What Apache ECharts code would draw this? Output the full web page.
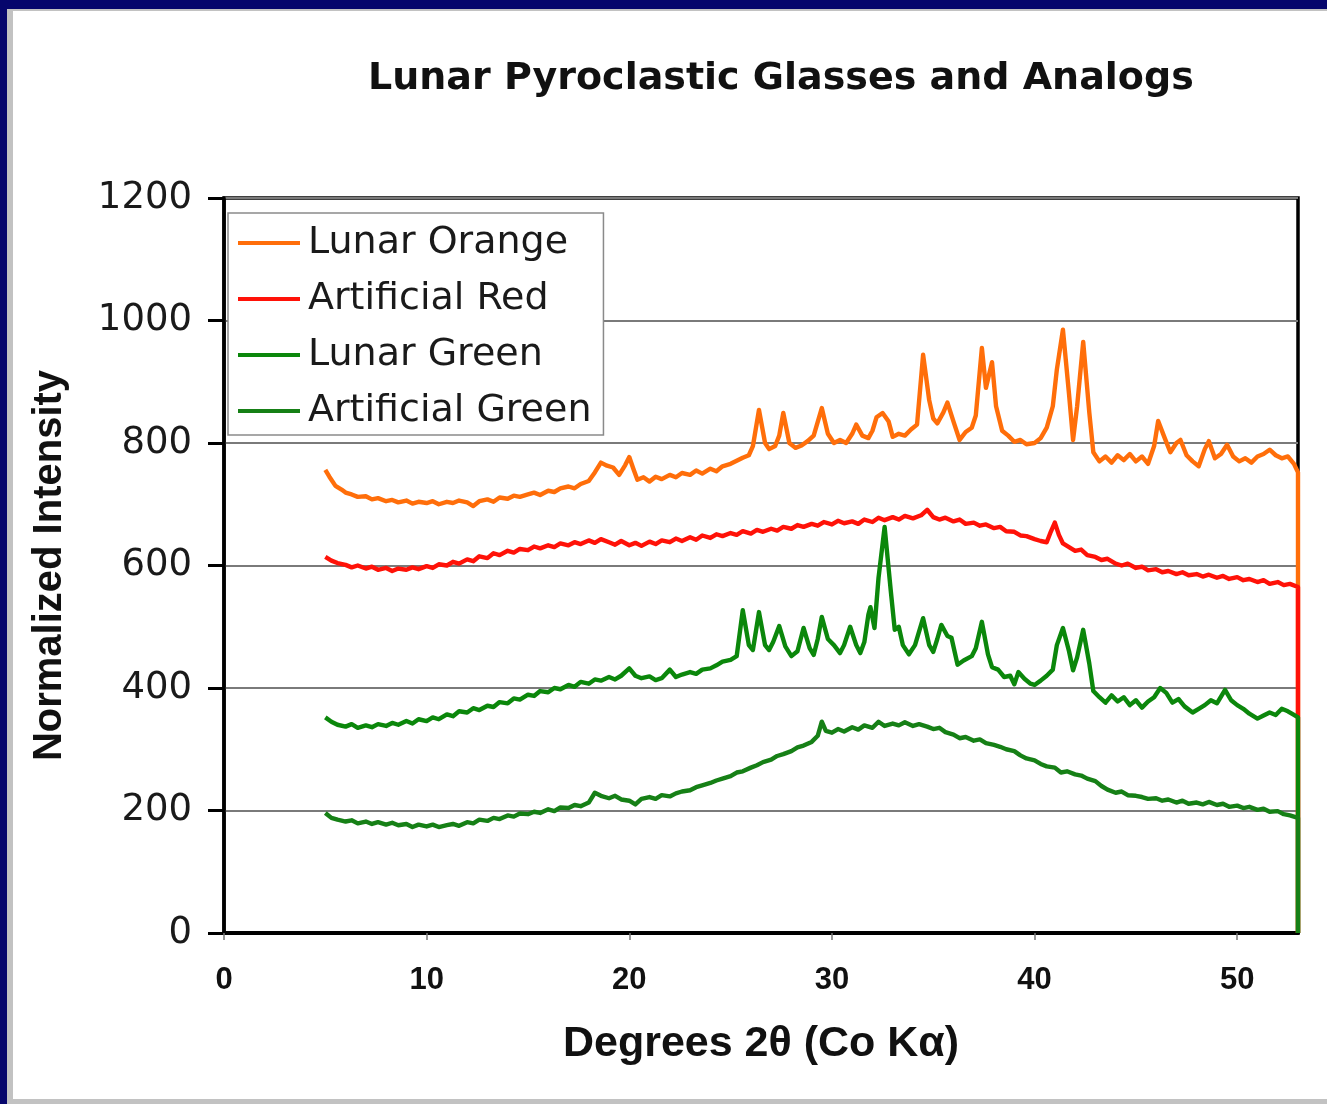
<!DOCTYPE html>
<html>
<head>
<meta charset="utf-8">
<script src="https://cdn.jsdelivr.net/npm/echarts@6/dist/echarts.min.js"></script>
<style>
html,body{margin:0;padding:0;width:1327px;height:1104px;overflow:hidden;background:#06066c;}
#gray{position:absolute;left:7px;top:9px;width:1320px;height:1095px;background:#c2c2c2;}
#white{position:absolute;left:13px;top:11px;width:1314px;height:1088px;background:#ffffff;}
#chart{position:absolute;left:0;top:0;width:1327px;height:1104px;}
</style>
</head>
<body>
<div id="gray"></div>
<div id="white"></div>
<div id="chart"></div>
<script>
const titleText = 'Lunar Pyroclastic Glasses and Analogs';
const xAxisName = 'Degrees 2\u03B8 (Co K\u03B1)';
const yAxisName = 'Normalized Intensity';
const seriesNames = ['Lunar Orange', 'Artificial Red', 'Lunar Green', 'Artificial Green'];
const seriesColors = ['#ff6e0a', '#ff1208', '#0b870b', '#168016'];
const xTicks = [0, 10, 20, 30, 40, 50];

const lunarOrange = [
[5.0,756],[5.2,745],[5.5,730],[5.8,724],[6.0,719],[6.3,716],[6.6,712],[7.0,713],[7.3,708],[7.6,710],
[8.0,705],[8.3,707],[8.6,703],[9.0,706],[9.3,701],[9.6,704],[10.0,702],[10.3,705],[10.6,700],[11.0,704],
[11.3,702],[11.6,706],[12.0,703],[12.3,697],[12.6,705],[13.0,708],[13.3,704],[13.6,711],[14.0,709],[14.3,714],
[14.6,712],[15.0,716],[15.3,719],[15.6,715],[16.0,722],[16.3,720],[16.6,726],[17.0,729],[17.3,726],[17.6,733],
[18.0,738],[18.3,752],[18.6,768],[18.9,763],[19.2,760],[19.5,748],[19.8,764],[20.0,777],[20.2,758],[20.4,740],
[20.7,744],[21.0,737],[21.3,745],[21.6,741],[22.0,748],[22.3,744],[22.6,751],[23.0,748],[23.3,755],[23.6,750],
[24.0,758],[24.3,754],[24.6,762],[25.0,766],[25.3,771],[25.6,776],[25.9,780],[26.1,795],[26.4,854],[26.7,800],
[26.9,790],[27.2,795],[27.4,812],[27.6,849],[27.9,800],[28.2,792],[28.5,796],[28.8,803],[29.1,812],[29.5,857],
[29.8,815],[30.1,800],[30.4,805],[30.7,800],[31.0,815],[31.2,830],[31.5,812],[31.8,808],[32.0,820],[32.2,842],
[32.5,849],[32.8,835],[33.0,810],[33.3,815],[33.6,812],[33.9,822],[34.2,830],[34.5,944],[34.8,870],[35.0,840],
[35.2,832],[35.5,850],[35.7,866],[36.0,835],[36.3,805],[36.6,818],[36.9,825],[37.1,845],[37.4,955],[37.6,890],
[37.9,932],[38.1,860],[38.4,820],[38.7,812],[39.0,802],[39.3,805],[39.6,798],[40.0,800],[40.3,808],[40.6,825],
[40.9,860],[41.1,920],[41.4,985],[41.7,880],[41.9,805],[42.1,860],[42.4,965],[42.7,850],[42.9,785],[43.2,770],
[43.5,778],[43.8,768],[44.1,780],[44.4,772],[44.7,782],[45.0,770],[45.3,778],[45.6,766],[45.9,795],[46.1,836],
[46.4,810],[46.7,785],[47.0,800],[47.2,805],[47.5,780],[47.8,770],[48.1,762],[48.4,790],[48.6,803],[48.9,775],
[49.2,782],[49.5,797],[49.8,778],[50.1,770],[50.4,775],[50.7,768],[51.0,778],[51.3,782],[51.6,789],[51.9,780],
[52.2,775],[52.5,778],[52.8,766],[53.0,752],[53.0,0]
];

const artificialRed = [
[5.0,614],[5.3,608],[5.6,604],[6.0,601],[6.3,597],[6.6,600],[7.0,595],[7.3,598],[7.6,593],[8.0,596],
[8.3,591],[8.6,595],[9.0,593],[9.3,597],[9.6,594],[10.0,599],[10.3,596],[10.6,602],[11.0,600],[11.3,606],
[11.6,603],[12.0,610],[12.3,607],[12.6,615],[13.0,612],[13.3,620],[13.6,617],[14.0,624],[14.3,621],[14.6,627],
[15.0,625],[15.3,631],[15.6,628],[16.0,633],[16.3,630],[16.6,636],[17.0,633],[17.3,638],[17.6,635],[18.0,641],
[18.3,637],[18.6,643],[19.0,638],[19.3,634],[19.6,640],[20.0,633],[20.3,637],[20.6,632],[21.0,639],[21.3,635],
[21.6,641],[22.0,638],[22.3,644],[22.6,640],[23.0,646],[23.3,642],[23.6,649],[24.0,645],[24.3,651],[24.6,648],
[25.0,653],[25.3,650],[25.6,656],[26.0,652],[26.3,658],[26.6,655],[27.0,660],[27.3,657],[27.6,663],[28.0,660],
[28.3,666],[28.6,663],[29.0,668],[29.3,665],[29.6,671],[30.0,667],[30.3,673],[30.6,669],[31.0,672],[31.3,668],
[31.6,675],[32.0,671],[32.3,678],[32.6,674],[33.0,679],[33.3,675],[33.6,681],[34.0,677],[34.4,682],[34.7,691],
[35.0,679],[35.3,675],[35.6,678],[36.0,672],[36.3,675],[36.6,668],[37.0,670],[37.3,665],[37.6,667],[38.0,661],
[38.3,663],[38.6,656],[39.0,655],[39.3,649],[39.6,648],[40.0,643],[40.3,640],[40.6,638],[40.8,655],[41.0,670],
[41.2,650],[41.4,636],[41.7,630],[42.0,624],[42.3,626],[42.6,617],[43.0,614],[43.3,609],[43.6,611],[44.0,603],
[44.3,600],[44.6,603],[45.0,596],[45.3,598],[45.6,592],[46.0,594],[46.3,589],[46.6,591],[47.0,586],[47.3,589],
[47.6,584],[48.0,586],[48.3,582],[48.6,585],[49.0,580],[49.3,583],[49.6,578],[50.0,581],[50.3,576],[50.6,578],
[51.0,573],[51.3,576],[51.6,570],[52.0,573],[52.3,568],[52.6,570],[53.0,565],[53.0,0]
];

const lunarGreen = [
[5.0,352],[5.3,345],[5.6,340],[6.0,337],[6.3,341],[6.6,335],[7.0,339],[7.3,336],[7.6,341],[8.0,338],
[8.3,343],[8.6,340],[9.0,346],[9.3,342],[9.6,349],[10.0,346],[10.3,352],[10.6,349],[11.0,357],[11.3,354],
[11.6,362],[12.0,360],[12.3,367],[12.6,364],[13.0,371],[13.3,369],[13.6,377],[14.0,375],[14.3,383],[14.6,381],
[15.0,389],[15.3,387],[15.6,395],[16.0,393],[16.3,400],[16.6,398],[17.0,405],[17.3,402],[17.6,410],[18.0,407],
[18.3,414],[18.6,412],[19.0,418],[19.3,414],[19.6,420],[20.0,432],[20.3,420],[20.6,416],[21.0,419],[21.3,413],
[21.6,416],[22.0,430],[22.3,418],[22.6,422],[23.0,426],[23.3,423],[23.6,430],[24.0,432],[24.3,437],[24.6,443],
[25.0,446],[25.3,452],[25.6,527],[25.9,470],[26.1,462],[26.4,524],[26.7,470],[26.9,462],[27.1,475],[27.4,501],
[27.7,468],[28.0,452],[28.3,460],[28.6,498],[28.9,465],[29.1,454],[29.3,480],[29.5,516],[29.8,480],[30.1,470],
[30.4,457],[30.6,470],[30.9,500],[31.2,470],[31.4,457],[31.6,475],[31.8,520],[31.9,532],[32.1,498],[32.3,580],
[32.6,663],[32.9,560],[33.1,495],[33.3,500],[33.5,470],[33.8,455],[34.1,470],[34.5,514],[34.8,470],[35.0,459],
[35.2,480],[35.4,503],[35.7,485],[35.9,482],[36.2,438],[36.5,445],[36.9,452],[37.1,465],[37.4,508],[37.7,455],
[37.9,434],[38.2,430],[38.5,418],[38.8,420],[39.0,406],[39.2,426],[39.5,415],[39.8,407],[40.0,405],[40.3,412],
[40.6,420],[40.9,430],[41.1,470],[41.4,498],[41.7,460],[41.9,429],[42.1,450],[42.4,495],[42.7,440],[42.9,395],
[43.2,385],[43.5,376],[43.8,388],[44.1,378],[44.4,385],[44.7,372],[45.0,380],[45.3,368],[45.6,378],[45.9,385],
[46.2,400],[46.5,392],[46.8,376],[47.1,382],[47.4,370],[47.8,360],[48.1,366],[48.4,372],[48.7,380],[49.0,375],
[49.4,397],[49.7,380],[50.0,372],[50.3,366],[50.6,358],[51.0,350],[51.3,355],[51.6,360],[51.9,356],[52.2,366],
[52.5,362],[52.8,356],[53.0,352],[53.0,0]
];

const artificialGreen = [
[5.0,196],[5.3,188],[5.6,185],[6.0,182],[6.3,184],[6.6,179],[7.0,182],[7.3,178],[7.6,181],[8.0,177],
[8.3,180],[8.6,176],[9.0,178],[9.3,173],[9.6,177],[10.0,174],[10.3,177],[10.6,173],[11.0,176],[11.3,178],
[11.6,175],[12.0,181],[12.3,179],[12.6,185],[13.0,183],[13.3,188],[13.6,186],[14.0,192],[14.3,190],[14.6,195],
[15.0,194],[15.3,198],[15.6,196],[16.0,202],[16.3,199],[16.6,205],[17.0,204],[17.3,209],[17.6,207],[18.0,213],
[18.3,229],[18.6,224],[19.0,220],[19.3,224],[19.6,218],[20.0,216],[20.3,210],[20.6,219],[21.0,222],[21.3,219],
[21.6,225],[22.0,223],[22.3,228],[22.6,231],[23.0,233],[23.3,238],[23.6,241],[24.0,245],[24.3,249],[24.6,252],
[25.0,256],[25.3,262],[25.6,264],[26.0,270],[26.3,274],[26.6,279],[27.0,283],[27.3,289],[27.6,292],[28.0,297],
[28.3,303],[28.6,306],[29.0,312],[29.3,322],[29.5,345],[29.7,330],[30.0,327],[30.3,333],[30.6,329],[31.0,336],
[31.3,332],[31.6,339],[32.0,335],[32.3,345],[32.6,338],[33.0,342],[33.3,339],[33.6,344],[34.0,338],[34.3,341],
[34.7,337],[35.0,333],[35.3,335],[35.6,328],[36.0,324],[36.3,318],[36.6,320],[37.0,314],[37.3,316],[37.6,310],
[38.0,307],[38.3,304],[38.6,300],[39.0,297],[39.3,290],[39.6,285],[40.0,282],[40.3,276],[40.6,272],[41.0,270],
[41.3,262],[41.6,264],[42.0,259],[42.3,257],[42.6,252],[43.0,248],[43.3,240],[43.6,234],[44.0,229],[44.3,231],
[44.6,225],[45.0,224],[45.3,222],[45.6,219],[46.0,220],[46.3,216],[46.6,218],[47.0,213],[47.3,216],[47.6,211],
[48.0,213],[48.3,210],[48.6,214],[49.0,209],[49.3,211],[49.6,206],[50.0,208],[50.3,204],[50.6,206],[51.0,201],
[51.3,203],[51.6,198],[52.0,199],[52.3,194],[52.6,192],[53.0,188],[53.0,0]
];

const seriesData = [lunarOrange, artificialRed, lunarGreen, artificialGreen];

const chart = echarts.init(document.getElementById('chart'), null, {renderer: 'canvas'});
chart.setOption({
  backgroundColor: 'transparent',
  animation: false,
  title: {
    text: titleText,
    left: 368,
    top: 57,
    padding: 0,
    textStyle: {fontFamily: 'DejaVu Sans', fontWeight: 'bold', fontSize: 38, color: '#111', lineHeight: 44}
  },
  legend: {
    orient: 'vertical',
    left: 228,
    top: 213,
    padding: [11, 12, 5, 10],
    backgroundColor: '#ffffff',
    borderColor: '#8a8a8a',
    borderWidth: 1.5,
    borderRadius: 0,
    icon: 'rect',
    itemWidth: 62,
    itemHeight: 4,
    itemGap: 18,
    data: seriesNames,
    textStyle: {fontFamily: 'DejaVu Sans', fontSize: 38, color: '#1a1a1a', lineHeight: 38, padding: [0, 0, 0, 3]}
  },
  grid: {
    left: 224, top: 198, width: 1074, height: 735,
    show: true, borderColor: '#000', borderWidth: 3.5, backgroundColor: 'transparent',
    containLabel: false
  },
  xAxis: {
    type: 'value', min: 0, max: 53, interval: 10,
    name: xAxisName, nameLocation: 'middle', nameGap: 90,
    nameTextStyle: {fontFamily: 'Liberation Sans', fontWeight: 'bold', fontSize: 43, color: '#111'},
    axisLine: {show: true, onZero: false, lineStyle: {color: '#000', width: 4}},
    axisTick: {show: true, length: 7, customValues: xTicks, lineStyle: {color: '#777', width: 1.5}},
    axisLabel: {show: true, margin: 32, customValues: xTicks,
      formatter: function (v) { return v % 10 === 0 ? String(v) : ''; },
      fontFamily: 'Liberation Sans', fontWeight: 'bold', fontSize: 31, color: '#111'},
    splitLine: {show: false}
  },
  yAxis: {
    type: 'value', min: 0, max: 1200, interval: 200,
    name: yAxisName, nameLocation: 'middle', nameGap: 154, nameRotate: 90,
    nameTextStyle: {fontFamily: 'Liberation Sans', fontWeight: 'bold', fontSize: 40, color: '#111'},
    axisLine: {show: true, lineStyle: {color: '#000', width: 3.5}},
    axisTick: {show: true, length: 16, lineStyle: {color: '#000', width: 3}},
    axisLabel: {show: true, margin: 32, fontFamily: 'DejaVu Sans', fontSize: 37, color: '#1a1a1a',
      formatter: function (v) { return String(v); }},
    splitLine: {show: true, lineStyle: {color: '#7a7a7a', width: 1.8}}
  },
  series: seriesData.map(function (d, i) {
    return {
      name: seriesNames[i],
      type: 'line',
      data: d,
      color: seriesColors[i],
      showSymbol: false,
      symbol: 'none',
      smooth: false,
      clip: true,
      lineStyle: {color: seriesColors[i], width: 4.4, join: 'round'},
      emphasis: {disabled: true}
    };
  })
});
</script>
</body>
</html>
